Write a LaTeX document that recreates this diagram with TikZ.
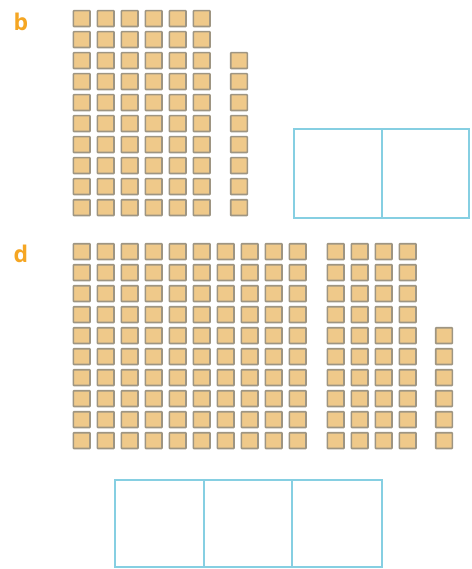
\documentclass[tikz,border=0pt]{standalone}
\usepackage{fontspec}
\setsansfont{Open Sans}
\definecolor{tilefill}{HTML}{EFC98A}
\definecolor{tileline}{HTML}{9E9582}
\definecolor{boxline}{HTML}{86CFE2}
\definecolor{labelcol}{HTML}{F5A623}
\tikzset{
  tile/.style={draw=tileline, fill=tilefill, line width=1.6pt, rounded corners=0.6pt,
    minimum width=16.6pt, minimum height=15.8pt, inner sep=0pt, outer sep=0pt, anchor=north west},
  cell/.style={draw=boxline, line width=1.9pt, inner sep=0pt, outer sep=0pt, anchor=north west},
  partlabel/.style={text=labelcol, font=\sffamily\bfseries\fontsize{23}{23}\selectfont, inner sep=0pt}
}
\begin{document}
\begin{tikzpicture}[x=1pt,y=-1pt]
\useasboundingbox (0,0) rectangle (471,569);
\fill[white] (0,0) rectangle (471,569);
% labels
\node[partlabel] (lb) at (21,22) {b};
\node[partlabel] (ld) at (21,254) {d};
% part b: six tens and eight ones
\foreach \i in {0,...,5}{
  \foreach \j in {0,...,9}{
    \node[tile] (b-\i-\j) at ({73.4+24*\i},{10.7+21*\j}) {};
  }
}
\foreach \j in {2,...,9}{
  \node[tile] (bo-\j) at (230.7,{10.7+21*\j}) {};
}
% part b boxes
\node[cell, minimum width=88pt, minimum height=89pt] (bt) at (294,129) {};
\node[cell, minimum width=87pt, minimum height=89pt] (bu) at (382,129) {};
% part d: ten tens, four tens, six ones
\foreach \i in {0,...,9}{
  \foreach \j in {0,...,9}{
    \node[tile] (dh-\i-\j) at ({73.4+24*\i},{243.7+21*\j}) {};
  }
}
\foreach \i in {0,...,3}{
  \foreach \j in {0,...,9}{
    \node[tile] (dt-\i-\j) at ({327.4+24*\i},{243.7+21*\j}) {};
  }
}
\foreach \j in {4,...,9}{
  \node[tile] (do-\j) at (435.7,{243.7+21*\j}) {};
}
% part d boxes
\node[cell, minimum width=89pt, minimum height=87pt] (dh) at (115,480) {};
\node[cell, minimum width=88pt, minimum height=87pt] (dtb) at (204,480) {};
\node[cell, minimum width=89.7pt, minimum height=87pt] (dob) at (292,480) {};
\end{tikzpicture}
\end{document}
